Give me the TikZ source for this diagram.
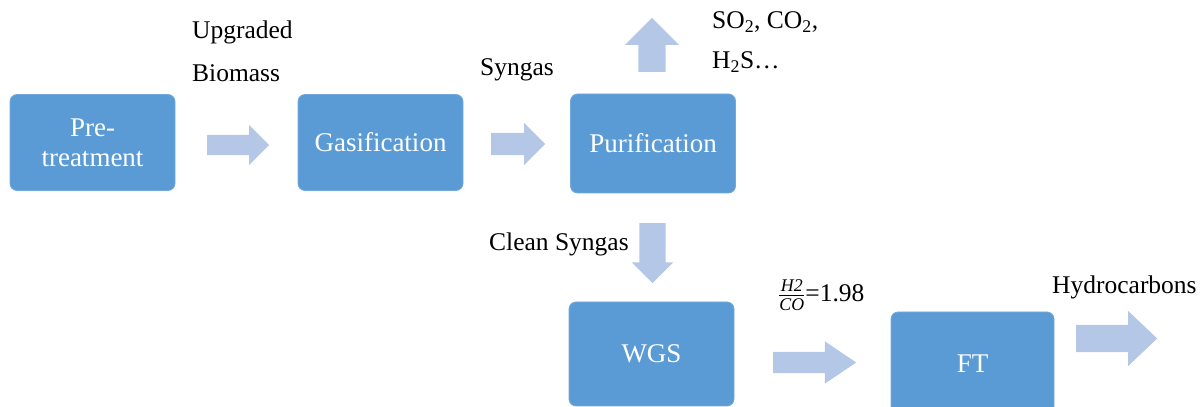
\documentclass[tikz,border=0pt]{standalone}
\usepackage{fontspec}
\setmainfont{Liberation Serif}
\usetikzlibrary{shapes.arrows}
\definecolor{boxblue}{RGB}{91, 155, 213}
\definecolor{arrowblue}{RGB}{180, 199, 231}

\begin{document}
\begin{tikzpicture}[
  x=1pt, y=1pt,
  stagebox/.style={draw=boxblue!85!white, line width=0.8pt, fill=boxblue, rounded corners=7pt,
                   minimum width=165pt, minimum height=96pt, align=center, text=white,
                   font=\fontsize{27}{30}\selectfont},
  flowarrow/.style={single arrow, fill=arrowblue, draw=none, inner xsep=0pt, anchor=tail,
                    inner ysep=10pt, single arrow head extend=10pt, single arrow tip angle=90},
  tag/.style={anchor=west, inner sep=0pt, font=\fontsize{25.5}{30}\selectfont}
]
  \useasboundingbox (0,0) rectangle (1203,407);

  % process stages
  \node[stagebox] (pretreat) at (92.5, 264.5) {Pre-\\treatment};
  \node[stagebox] (gasif)    at (380.5, 264.5) {Gasification};
  \node[stagebox, minimum height=99pt] (purif) at (653, 263.5) {Purification};
  \node[stagebox, minimum height=104pt] (wgs) at (651.5, 53) {WGS};
  \node[stagebox, minimum width=163pt, minimum height=104pt] (ft) at (972.5, 43) {FT};

  % block arrows (placed by their tails)
  \node[flowarrow, minimum height=62pt] (arrA) at (207, 262) {};
  \node[flowarrow, minimum height=54pt, inner ysep=11pt] (arrB) at (491, 263) {};
  \node[flowarrow, rotate=90, minimum height=54pt, inner ysep=13.5pt, single arrow head extend=13.5pt] (arrUp) at (652, 335) {};
  \node[flowarrow, rotate=-90, minimum height=60pt, inner ysep=13pt, single arrow head extend=7.5pt] (arrDown) at (652.5, 184) {};
  \node[flowarrow, minimum height=83pt, inner ysep=10.5pt, single arrow head extend=10.5pt, single arrow tip angle=68] (arrC) at (773, 44.5) {};
  \node[flowarrow, minimum height=81pt, inner ysep=13.5pt, single arrow head extend=14pt, single arrow tip angle=87] (arrD) at (1076, 68.5) {};

  % stream labels
  \node[tag] (upgraded) at (192, 375) {Upgraded};
  \node[tag] (biomass)  at (192, 334) {Biomass};
  \node[tag] (syngas)   at (480, 337) {Syngas};
  \node[tag] (gases)    at (712, 385) {SO\textsubscript{2}, CO\textsubscript{2},};
  \node[tag] (hsulf)    at (712, 345) {H\textsubscript{2}S…};
  \node[tag] (clean)    at (489, 163) {Clean Syngas};
  \node[tag] (ratio)    at (778, 112) {$\frac{\mathit{H2}}{\mathit{CO}}$=1.98};
  \node[tag] (hydro)    at (1052, 120) {Hydrocarbons};
\end{tikzpicture}
\end{document}
